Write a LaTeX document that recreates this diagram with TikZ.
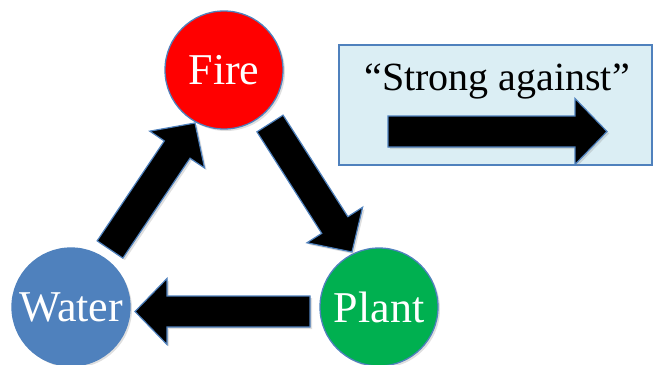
\documentclass[tikz,border=0pt]{standalone}
\usepackage{fontspec}
\setmainfont{Liberation Serif}
\usetikzlibrary{calc,shadows}
\definecolor{edgeblue}{HTML}{4F81BD}
\definecolor{firered}{HTML}{FF0000}
\definecolor{plantgreen}{HTML}{00B050}
\definecolor{waterblue}{HTML}{4F81BD}
\definecolor{legendfill}{HTML}{DBEEF4}
\tikzset{
  elem/.style={circle, minimum size=118pt, inner sep=0pt, draw=edgeblue, line width=1.3pt,
    text=white, font=\fontsize{44}{44}\selectfont,
    drop shadow={opacity=0.25, shadow xshift=2pt, shadow yshift=-2pt}},
  blockarr/.style={fill=black, draw=edgeblue, line width=1.2pt, line join=miter,
    drop shadow={opacity=0.25, shadow xshift=2pt, shadow yshift=-2pt}},
  legendbox/.style={draw=edgeblue, fill=legendfill, line width=1.2pt},
  legendtext/.style={font=\fontsize{40}{40}\selectfont, text=black, anchor=base}
}
\newcommand\blockarrow[3]{%
  \coordinate (#3h) at ($(#2)!32pt!(#1)$);
  \filldraw[blockarr]
    ($(#1)!15.5pt!90:(#2)$) -- ($(#3h)!15.5pt!90:(#2)$) -- ($(#3h)!33pt!90:(#2)$) -- (#2)
    -- ($(#3h)!33pt!-90:(#2)$) -- ($(#3h)!15.5pt!-90:(#2)$) -- ($(#1)!15.5pt!-90:(#2)$) -- cycle;
}
\begin{document}
\begin{tikzpicture}[x=1pt,y=-1pt]
\useasboundingbox (0,0) rectangle (655,364);
% legend
\draw[legendbox] (339,45) rectangle (652,165);
\node[legendtext] (lt) at (497,90) {“Strong against”};
\coordinate (ls) at (388,131.5);
\coordinate (le) at (607,131.5);
\blockarrow{ls}{le}{leg}
% elements
\node[elem, fill=firered] (fire) at (224,70) {Fire};
\node[elem, fill=waterblue] (water) at (71,307) {Water};
\node[elem, fill=plantgreen] (plant) at (379,307) {Plant};
% arrows
\coordinate (fpA) at (270,123.5);
\coordinate (fpB) at (352,252);
\blockarrow{fpA}{fpB}{fp}
\coordinate (pwA) at (310,311.5);
\coordinate (pwB) at (135,311.5);
\blockarrow{pwA}{pwB}{pw}
\coordinate (wfA) at (110,249.5);
\coordinate (wfB) at (195,123);
\blockarrow{wfA}{wfB}{wf}
\end{tikzpicture}
\end{document}
